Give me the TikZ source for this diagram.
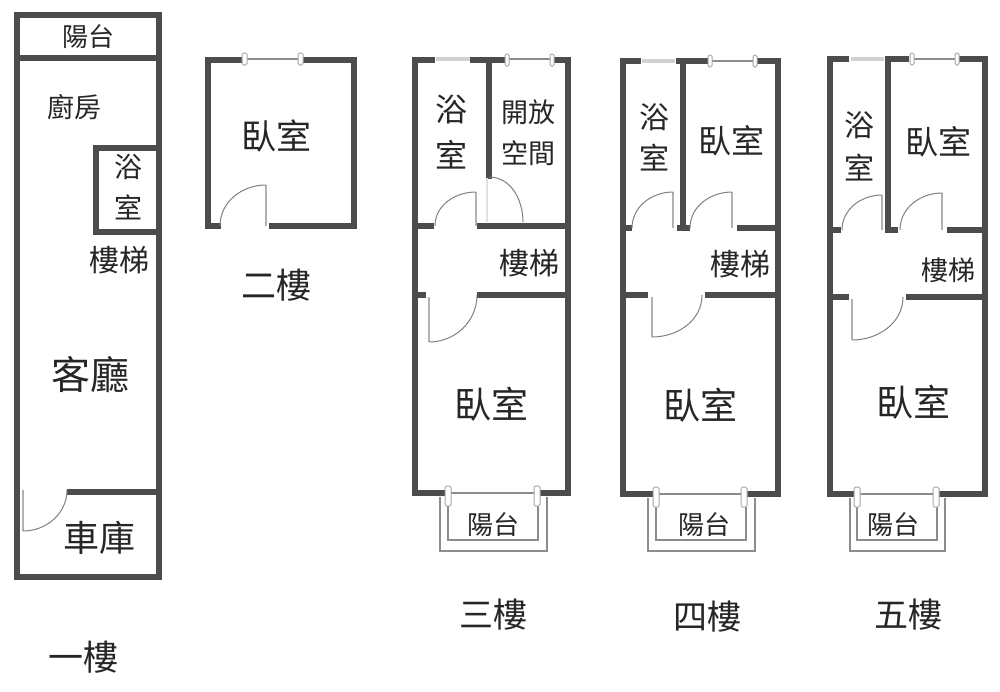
\documentclass[tikz,border=0pt]{standalone}
\usepackage{fontspec}
\newfontfamily\cjk{Noto Sans CJK TC}

\begin{document}
\begin{tikzpicture}[x=1pt,y=-1pt]
  \tikzset{wall/.style={draw=black!70,line width=6.5pt,line cap=rect,line join=miter}}
  \tikzset{pane/.style={draw=black!45,line width=1.2pt}}
  \tikzset{glass/.style={draw=black!18,line width=3.5pt}}
  \tikzset{jamb/.style={draw=black!35,fill=white,line width=1pt,rounded corners=1.5pt}}
  \tikzset{leaf/.style={draw=black!30,line width=2.5pt}}
  \tikzset{swing/.style={draw=black!50,line width=1pt}}
  \tikzset{rail/.style={draw=black!45,line width=1.2pt}}
  \tikzset{room/.style={font=\cjk\fontsize{#1}{#1}\selectfont,inner sep=0pt,text=black!85}}

  \useasboundingbox[fill=white] (0,0) rectangle (1000,691);

  % first floor
  \draw[wall] (17,15) rectangle (159,577);
  \draw[wall] (17,58) -- (159,58);
  \draw[wall] (157,148) -- (96,148) -- (96,232) -- (157,232);
  \draw[wall] (70,492) -- (157,492);
  \draw[leaf] (23,490) -- (23,531);
  \draw[swing] (23,531) to[out=0,in=-90] (67,490);
  \node[room=26] (bal1) at (88,37) {陽台};
  \node[room=27] (kitchen) at (74,107) {廚房};
  \node[room=28] (bath1a) at (128,167) {浴};
  \node[room=28] (bath1b) at (128,207) {室};
  \node[room=30] (stair1) at (119,260) {樓梯};
  \node[room=39] (living) at (90,375) {客廳};
  \node[room=36] (garage) at (99,538) {車庫};
  \node[room=35] (name1) at (83,657) {一樓};

  % second floor
  \draw[wall] (241,60) -- (208,60) -- (208,226) -- (218,226);
  \draw[wall] (304,60) -- (354,60) -- (354,226) -- (272,226);
  \draw[pane] (244,59) -- (302,59);
  \draw[jamb] (242,53) rectangle (247,65);
  \draw[jamb] (298,53) rectangle (303,65);
  \draw[leaf] (266,185) -- (266,226);
  \draw[swing] (266,185) to[out=180,in=90] (220,226);
  \node[room=35] (bed2) at (276,136) {臥室};
  \node[room=35] (name2) at (276,285) {二樓};

  % third floor
  \draw[wall] (432,60) -- (415,60) -- (415,493) -- (447,493);
  \draw[wall] (473,60) -- (503,60);
  \draw[wall] (555,60) -- (568,60) -- (568,493) -- (540,493);
  \draw[wall] (489,60) -- (489,176);
  \draw[wall] (415,226) -- (431,226);
  \draw[wall] (480,226) -- (568,226);
  \draw[wall] (480,295) -- (568,295);
  \draw[wall] (415,295) -- (423,295);
  \draw[glass] (436,59) -- (470,59);
  \draw[pane] (506,59) -- (552,59);
  \draw[jamb] (505,54) rectangle (509,66);
  \draw[jamb] (550,54) rectangle (554,66);
  \draw[leaf] (476,192) -- (476,226);
  \draw[swing] (476,192) to[out=180,in=90] (435,226);
  \draw[draw=black!12,line width=1.5pt] (487,178) -- (487,222);
  \draw[swing] (489,177) to[out=0,in=90] (523,222);
  \draw[leaf] (429,297) -- (429,342);
  \draw[swing] (429,342) to[out=0,in=-90] (477,295);
  \draw[pane] (449,493) -- (537,493);
  \draw[rail] (440,497) -- (440,551) -- (547,551) -- (547,497);
  \draw[rail] (448,506) -- (448,540) -- (538,540) -- (538,506);
  \draw[jamb] (445,486) rectangle (451,506);
  \draw[jamb] (534,486) rectangle (540,506);
  \node[room=32] (bath3a) at (451,110) {浴};
  \node[room=32] (bath3b) at (451,155) {室};
  \node[room=27] (open3a) at (528,112) {開放};
  \node[room=27] (open3b) at (528,153) {空間};
  \node[room=30] (stair3) at (529,263) {樓梯};
  \node[room=37] (bed3) at (491,404) {臥室};
  \node[room=26] (bal3) at (493,525) {陽台};
  \node[room=34] (name3) at (493,615) {三樓};

  % fourth floor
  \draw[wall] (638,61) -- (623,61) -- (623,494) -- (653,494);
  \draw[wall] (679,61) -- (705,61);
  \draw[wall] (759,61) -- (778,61) -- (778,494) -- (748,494);
  \draw[wall] (683,61) -- (683,228);
  \draw[wall] (623,228) -- (629,228);
  \draw[wall] (680,228) -- (687,228);
  \draw[wall] (740,228) -- (778,228);
  \draw[wall] (623,295) -- (645,295);
  \draw[wall] (708,295) -- (778,295);
  \draw[glass] (642,61) -- (675,61);
  \draw[pane] (710,61) -- (755,61);
  \draw[jamb] (708,55) rectangle (712,67);
  \draw[jamb] (753,55) rectangle (757,67);
  \draw[leaf] (673,192) -- (673,228);
  \draw[swing] (673,192) to[out=180,in=90] (632,228);
  \draw[leaf] (732,192) -- (732,228);
  \draw[swing] (732,192) to[out=180,in=90] (690,228);
  \draw[leaf] (652,297) -- (652,337);
  \draw[swing] (652,337) to[out=0,in=-90] (702,295);
  \draw[pane] (656,494) -- (744,494);
  \draw[rail] (648,498) -- (648,551) -- (755,551) -- (755,498);
  \draw[rail] (656,507) -- (656,540) -- (746,540) -- (746,507);
  \draw[jamb] (653,487) rectangle (659,507);
  \draw[jamb] (741,487) rectangle (747,507);
  \node[room=30] (bath4a) at (654,117) {浴};
  \node[room=30] (bath4b) at (654,158) {室};
  \node[room=33] (bedb4) at (731,141) {臥室};
  \node[room=30] (stair4) at (740,264) {樓梯};
  \node[room=37] (bed4) at (700,405) {臥室};
  \node[room=26] (bal4) at (704,525) {陽台};
  \node[room=34] (name4) at (707,617) {四樓};

  % fifth floor
  \draw[wall] (846,59) -- (830,59) -- (830,494) -- (853,494);
  \draw[wall] (888,59) -- (906,59);
  \draw[wall] (961,59) -- (985,59) -- (985,494) -- (941,494);
  \draw[wall] (888,59) -- (888,230);
  \draw[wall] (830,230) -- (838,230);
  \draw[wall] (888,230) -- (895,230);
  \draw[wall] (950,230) -- (985,230);
  \draw[wall] (830,297) -- (846,297);
  \draw[wall] (909,297) -- (985,297);
  \draw[glass] (851,59) -- (884,59);
  \draw[pane] (912,59) -- (957,59);
  \draw[jamb] (910,53) rectangle (914,65);
  \draw[jamb] (955,53) rectangle (959,65);
  \draw[leaf] (882,195) -- (882,230);
  \draw[swing] (882,195) to[out=180,in=90] (842,230);
  \draw[leaf] (942,193) -- (942,230);
  \draw[swing] (942,193) to[out=180,in=90] (900,230);
  \draw[leaf] (852,299) -- (852,340);
  \draw[swing] (852,340) to[out=0,in=-90] (903,297);
  \draw[pane] (857,494) -- (936,494);
  \draw[rail] (850,498) -- (850,551) -- (945,551) -- (945,498);
  \draw[rail] (857,507) -- (857,540) -- (937,540) -- (937,507);
  \draw[jamb] (854,487) rectangle (860,507);
  \draw[jamb] (933,487) rectangle (939,507);
  \node[room=30] (bath5a) at (859,125) {浴};
  \node[room=30] (bath5b) at (859,168) {室};
  \node[room=33] (bedb5) at (938,142) {臥室};
  \node[room=27] (stair5) at (948,270) {樓梯};
  \node[room=37] (bed5) at (913,402) {臥室};
  \node[room=26] (bal5) at (893,525) {陽台};
  \node[room=34] (name5) at (908,615) {五樓};
\end{tikzpicture}
\end{document}
